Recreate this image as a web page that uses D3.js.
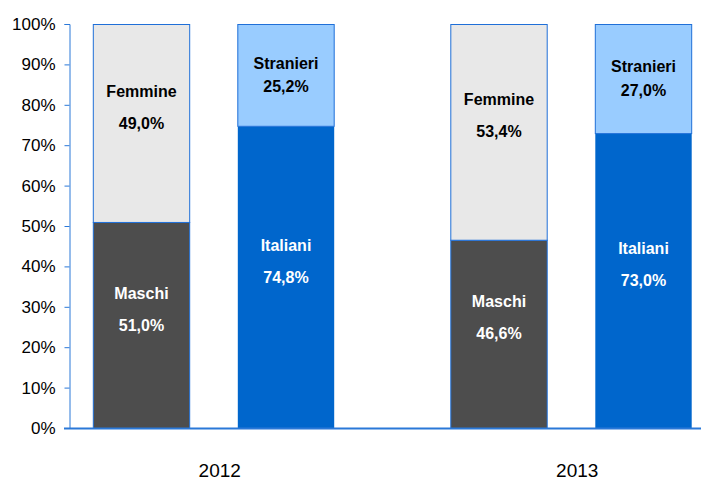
<!DOCTYPE html>
<html>
<head>
<meta charset="utf-8">
<script src="https://cdn.jsdelivr.net/npm/d3@7"></script>
<style>
  body { margin: 0; background: #fff; }
  svg text { font-family: "Liberation Sans", Arial, sans-serif; }
</style>
</head>
<body>
<svg id="chart" width="701" height="480"></svg>
<script>
// dati
const years = ['2012', '2013'];
const groups = ['genere', 'cittadinanza'];
const maschi = [51.0, 46.6];
const femmine = [49.0, 53.4];
const italiani = [74.8, 73.0];
const stranieri = [25.2, 27.0];
const yTicks = [0, 10, 20, 30, 40, 50, 60, 70, 80, 90, 100];

const fmt = v => v.toFixed(1).replace('.', ',') + '%';

// segments: bottom first, then top
const segments = [];
years.forEach((yr, i) => {
    segments.push({year: yr, group: 'genere', name: 'Maschi', v0: 0, v1: maschi[i], fill: '#4d4d4d', txt: '#fff'});
    segments.push({year: yr, group: 'genere', name: 'Femmine', v0: maschi[i], v1: 100, fill: '#e8e8e8', txt: '#000'});
    segments.push({year: yr, group: 'cittadinanza', name: 'Italiani', v0: 0, v1: italiani[i], fill: '#0066cc', txt: '#fff'});
    segments.push({year: yr, group: 'cittadinanza', name: 'Stranieri', v0: italiani[i], v1: 100, fill: '#99ccff', txt: '#000'});
});

const svg = d3.select('#chart');
const axisColor = '#2a78d8';

const yScale = d3.scaleLinear().domain([0, 100]).range([428, 24]);

const x0 = d3.scaleBand().domain(years).range([35, 750]);
const x1 = d3.scaleBand().domain(groups)
    .range([0, x0.bandwidth()])
    .paddingInner(0.326)
    .paddingOuter(0.4);

// bars
svg.append('g').selectAll('rect')
    .data(segments)
    .join('rect')
    .attr('x', d => x0(d.year) + x1(d.group) + 0.5)
    .attr('y', d => yScale(d.v1) + 0.5)
    .attr('width', x1.bandwidth() - 1)
    .attr('height', d => yScale(d.v0) - yScale(d.v1))
    .attr('fill', d => d.fill)
    .attr('stroke', d => d.name == 'Italiani' ? 'none' : '#1f6fd8')
    .attr('stroke-width', 1);

// y axis
const yAxis = svg.append('g')
    .attr('transform', 'translate(69.5,0)')
    .call(d3.axisLeft(yScale).tickValues(yTicks).tickSize(5).tickPadding(9).tickFormat(d => d + '%'));
yAxis.select('.domain').attr('stroke', axisColor);
yAxis.selectAll('.tick line').attr('stroke', axisColor);
yAxis.selectAll('.tick text')
    .attr('fill', '#000')
    .style('font-size', '17px')
    .style('font-family', '"Liberation Sans", Arial, sans-serif');

// x axis line
svg.append('line')
    .attr('x1', 64).attr('x2', 701)
    .attr('y1', yScale(0) + 0.5).attr('y2', yScale(0) + 0.5)
    .attr('stroke', axisColor)
    .attr('stroke-width', 2);

// year labels
svg.append('g').selectAll('text')
    .data(years)
    .join('text')
    .attr('x', d => x0(d) + x0.bandwidth() / 2 + 6)
    .attr('y', 477)
    .attr('text-anchor', 'middle')
    .style('font-size', '19px')
    .attr('fill', '#000')
    .text(d => d);

// segment labels
const lab = svg.append('g').selectAll('g')
    .data(segments)
    .join('g')
    .attr('transform', d => {
        const cx = x0(d.year) + x1(d.group) + x1.bandwidth() / 2;
        const cy = yScale((d.v0 + d.v1) / 2);
        return `translate(${cx},${cy})`;
    });

lab.append('text')
    .attr('text-anchor', 'middle')
    .attr('y', d => (d.v1 - d.v0) < 35 ? -12 : -32)
    .attr('dy', '0.35em')
    .style('font-size', '16px')
    .style('font-weight', 'bold')
    .attr('fill', d => d.txt)
    .text(d => d.name);

lab.append('text')
    .attr('text-anchor', 'middle')
    .attr('y', d => (d.v1 - d.v0) < 35 ? 12 : 0)
    .attr('dy', '0.35em')
    .style('font-size', '16px')
    .style('font-weight', 'bold')
    .attr('fill', d => d.txt)
    .text(d => fmt(d.v1 - d.v0));
</script>
</body>
</html>
